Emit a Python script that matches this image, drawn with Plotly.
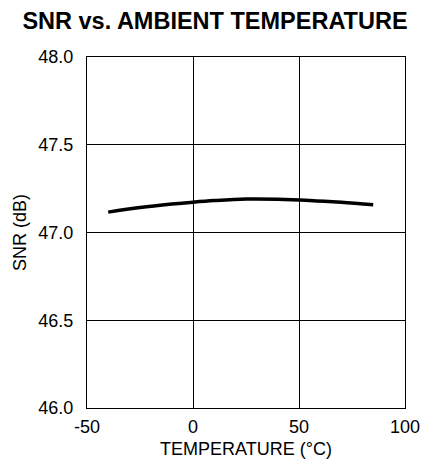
import plotly.graph_objects as go

# Temperature sweep (°C) and measured SNR (dB)
temperature = [-40, -25, -10, 0, 10, 25, 40, 55, 70, 85]
snr_db = [47.116, 47.142, 47.162, 47.173, 47.182, 47.191, 47.190, 47.183, 47.172, 47.158]

x_ticks = [-50, 0, 50, 100]
y_ticks = [46.0, 46.5, 47.0, 47.5, 48.0]

FONT = "Liberation Sans, Arial, Helvetica"

fig = go.Figure(
    go.Scatter(
        x=temperature,
        y=snr_db,
        mode="lines",
        line=dict(color="black", width=3.5, shape="spline"),
        showlegend=False,
    )
)

axis_common = dict(
    automargin=False,
    showline=True,
    linecolor="black",
    linewidth=1.2,
    mirror=True,
    showgrid=True,
    gridcolor="black",
    gridwidth=1,
    zeroline=False,
    ticks="outside",
    tickcolor="rgba(0,0,0,0)",
    ticklabeloverflow="allow",
    tickfont=dict(family=FONT, size=18, color="black"),
)

fig.update_xaxes(
    range=[-50, 100],
    tickvals=x_ticks,
    ticktext=[str(v) for v in x_ticks],
    ticklen=2,
    title=dict(text="TEMPERATURE (°C)", font=dict(family=FONT, size=18, color="black"), standoff=6),
    **axis_common,
)
fig.update_yaxes(
    range=[46.0, 48.0],
    tickvals=y_ticks,
    ticktext=[f"{v:.1f}" for v in y_ticks],
    ticklen=9,
    title=dict(text="SNR (dB)", font=dict(family=FONT, size=18, color="black"), standoff=6),
    **axis_common,
)

fig.update_layout(
    width=423,
    height=470,
    margin=dict(l=87, r=18, t=57, b=62),
    paper_bgcolor="white",
    plot_bgcolor="white",
    title=dict(
        text="<b>SNR vs. AMBIENT TEMPERATURE</b>",
        x=215 / 423,
        xanchor="center",
        y=1 - 21 / 470,
        yanchor="middle",
        font=dict(family=FONT, size=23.5, color="black"),
    ),
)

fig.write_html("out.html")
